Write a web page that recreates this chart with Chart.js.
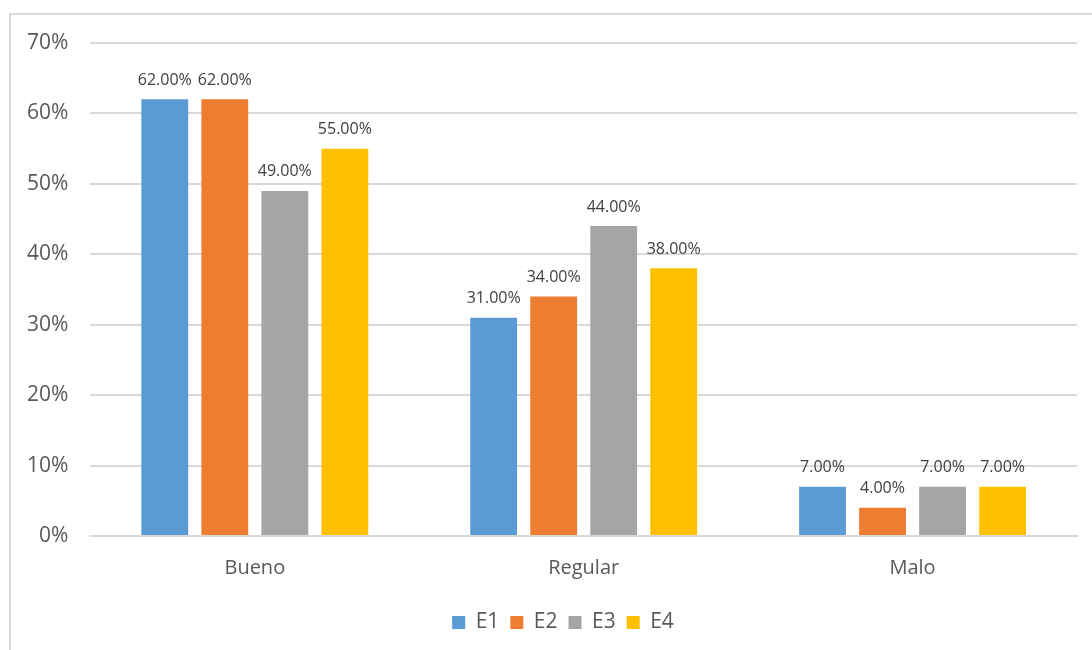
<!DOCTYPE html>
<html>
<head>
<meta charset="utf-8">
<script src="https://cdn.jsdelivr.net/npm/chart.js@4"></script>
<style>
  html, body { margin: 0; padding: 0; background: #fff; }
  #wrap { position: relative; width: 1092px; height: 650px; overflow: hidden; }
  #frame { position: absolute; left: 9px; top: 13px; width: 1200px; height: 700px;
           border: 2px solid #d9d9d9; box-sizing: border-box; pointer-events: none; }
  canvas { position: absolute; left: 0; top: 0; }
</style>
</head>
<body>
<div id="wrap">
  <canvas id="chart" width="1092" height="650"></canvas>
  <div id="frame"></div>
</div>
<script>
// categories and series
const categories = ['Bueno', 'Regular', 'Malo'];
const seriesNames = ['E1', 'E2', 'E3', 'E4'];
const e1 = [62, 31, 7];
const e2 = [62, 34, 4];
const e3 = [49, 44, 7];
const e4 = [55, 38, 7];
const colors = ['#5b9bd5', '#ed7d31', '#a5a5a5', '#ffc000'];

const fontFam = "'Open Sans', 'Noto Sans', sans-serif";

// labels above each bar
const valueLabels = {
    id: 'valueLabels',
    afterDatasetsDraw(chart) {
        const ctx = chart.ctx;
        ctx.save();
        ctx.font = '16px ' + fontFam;
        ctx.fillStyle = '#404040';
        ctx.textAlign = 'center';
        ctx.textBaseline = 'bottom';
        chart.data.datasets.forEach((ds, i) => {
            chart.getDatasetMeta(i).data.forEach((bar, j) => {
                ctx.fillText(ds.data[j].toFixed(2) + '%', bar.x, bar.y - 11);
            });
        });
        ctx.restore();
    }
};

// legend sits a bit right of the canvas centre in the original
const legendShift = {
    id: 'legendShift',
    afterLayout(chart) {
        chart.legend.left += 22;
        chart.legend.right += 22;
    }
};

const allSeries = [e1, e2, e3, e4];

new Chart(document.getElementById('chart'), {
    type: 'bar',
    data: {
        labels: categories,
        datasets: allSeries.map((d, i) => ({
            label: seriesNames[i],
            data: d,
            backgroundColor: colors[i],
            barPercentage: 0.78,
            categoryPercentage: 0.73
        }))
    },
    options: {
        responsive: false,
        animation: false,
        layout: { padding: { left: 5, right: 15, top: 43, bottom: 7 } },
        scales: {
            x: {
                grid: { display: false },
                border: { color: '#d9d9d9', width: 2 },
                ticks: { color: '#595959', font: { size: 20, family: fontFam }, padding: 12 },
                afterFit: scale => { scale.height += 9; }
            },
            y: {
                min: 0,
                max: 70,
                ticks: {
                    stepSize: 10,
                    color: '#595959',
                    font: { size: 21, family: fontFam },
                    padding: 22,
                    callback: v => v + '%'
                },
                grid: { color: '#d9d9d9', lineWidth: 2, drawTicks: false },
                border: { display: false }
            }
        },
        plugins: {
            legend: {
                position: 'bottom',
                labels: {
                    color: '#595959',
                    font: { size: 21, family: fontFam },
                    boxWidth: 13,
                    boxHeight: 13,
                    padding: 11
                }
            },
            tooltip: { enabled: false }
        }
    },
    plugins: [valueLabels, legendShift]
});
</script>
</body>
</html>
